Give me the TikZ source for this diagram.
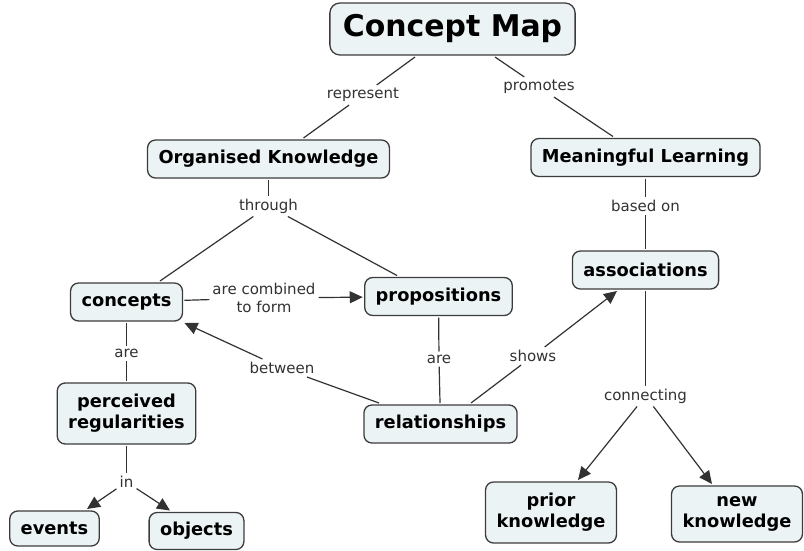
\documentclass[tikz,border=0pt]{standalone}
\usepackage{fontspec}
\setmainfont{DejaVu Sans}
\usetikzlibrary{arrows.meta}
\definecolor{boxfill}{RGB}{236,243,245}
\definecolor{boxline}{RGB}{60,60,60}
\definecolor{lnkgrey}{RGB}{50,50,50}
\begin{document}
\begin{tikzpicture}[x=1pt,y=-1pt]
    \tikzstyle{cnode}=[draw=boxline,fill=boxfill,line width=1.3pt,rounded corners=8pt,align=center,inner xsep=11pt,inner ysep=3pt,minimum height=38pt,outer sep=2pt,font=\fontsize{17.8}{21}\selectfont\bfseries]
    \tikzstyle{mapnode}=[cnode,rounded corners=10pt,inner xsep=13pt,minimum height=52pt,font=\fontsize{29.9}{34}\selectfont\bfseries]
    \tikzstyle{lword}=[text=lnkgrey,align=center,inner sep=3pt,font=\fontsize{15}{18}\selectfont]
    \tikzstyle{lnk}=[draw=lnkgrey,line width=1.2pt]
    \tikzstyle{fwd}=[lnk,-{Triangle[length=13pt,width=12pt]}]

    \useasboundingbox (0,0) rectangle (804,550);

    % concepts
    \node[mapnode] (map) at (452.5,29) {Concept Map};
    \node[cnode] (ok)    at (268.5,159) {Organised Knowledge};
    \node[cnode] (ml)    at (645.5,157.5) {Meaningful Learning};
    \node[cnode] (con)   at (126.5,302) {concepts};
    \node[cnode] (prop)  at (438.5,296.5) {propositions};
    \node[cnode] (assoc) at (645.5,270) {associations};
    \node[cnode,minimum height=61pt] (perc) at (126.5,413.5) {perceived\\regularities};
    \node[cnode] (rel)   at (440.5,424) {relationships};
    \node[cnode,minimum height=35pt] (ev)  at (54.5,528.5) {events};
    \node[cnode,minimum height=37pt] (obj) at (196.5,531) {objects};
    \node[cnode,minimum height=61pt] (prior) at (551,512.5) {prior\\knowledge};
    \node[cnode,minimum height=56pt] (new)   at (737,514) {new\\knowledge};

    % linking words
    \node[lword] (represent) at (363,95) {represent};
    \node[lword] (promotes)  at (539,87) {promotes};
    \node[lword] (through)   at (268.5,206) {through};
    \node[lword] (basedon)   at (645.5,206) {based on};
    \node[lword] (combined)  at (264,298) {are combined\\to form};
    \node[lword] (are1)      at (126.5,353) {are};
    \node[lword] (between)   at (282,368) {between};
    \node[lword] (are2)      at (439,359) {are};
    \node[lword] (shows)     at (533,356) {shows};
    \node[lword] (connecting) at (645.5,396) {connecting};
    \node[lword] (in)        at (126.5,482) {in};

    \draw [lnk] ([xshift=-37.5pt]map.south) -- (represent);
    \draw [lnk] (represent) -- ([xshift=35pt]ok.north);
    \draw [lnk] ([xshift=42.5pt]map.south) -- (promotes);
    \draw [lnk] (promotes) -- ([xshift=-32.5pt]ml.north);

    \draw [lnk] (ok) -- (through);
    \draw [lnk] (through) -- ([xshift=33.5pt]con.north);
    \draw [lnk] (through) -- ([xshift=-41.5pt]prop.north);

    \draw [lnk] (ml) -- (basedon);
    \draw [lnk] (basedon) -- (assoc);

    \draw [lnk] (con) -- (combined);
    \draw [fwd] (combined) -- (prop);

    \draw [lnk] (con) -- (are1);
    \draw [lnk] (are1) -- (perc);

    \draw [lnk] (perc) -- (in);
    \draw [fwd] (in) -- ([xshift=32.5pt]ev.north);
    \draw [fwd] (in) -- ([xshift=-26.5pt]obj.north);

    \draw [lnk] ([xshift=-61.5pt]rel.north) -- (between);
    \draw [fwd] (between) -- (con.south east);

    \draw [lnk] (prop) -- (are2);
    \draw [lnk] (are2) -- (rel);

    \draw [lnk] ([xshift=30.5pt]rel.north) -- (shows);
    \draw [fwd] (shows) -- ([xshift=-28.5pt]assoc.south);

    \draw [lnk] (assoc) -- (connecting);
    \draw [fwd] (connecting) -- ([xshift=27pt]prior.north);
    \draw [fwd] (connecting) -- ([xshift=-25pt]new.north);
\end{tikzpicture}
\end{document}
